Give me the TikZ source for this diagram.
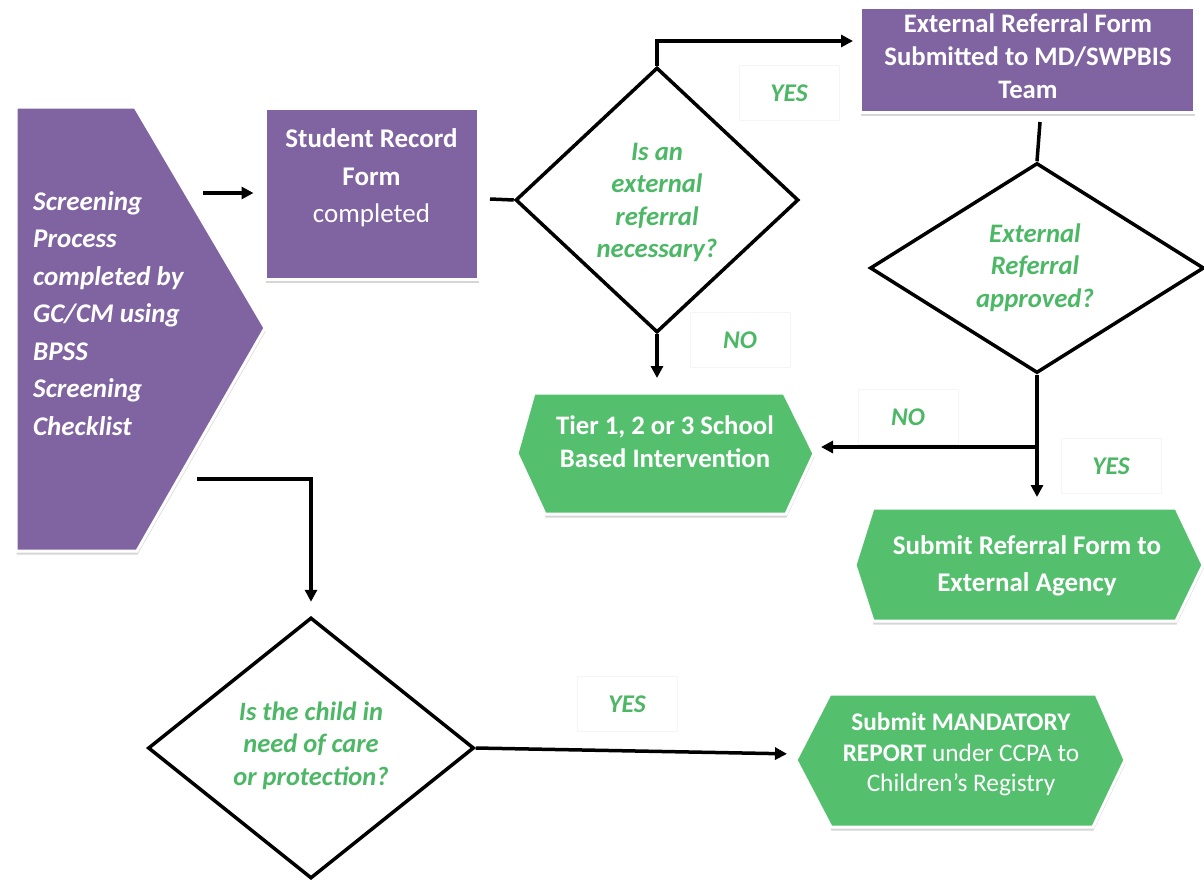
\documentclass[tikz,border=0pt]{standalone}
\usepackage{fontspec}
\setmainfont{Carlito}
\usetikzlibrary{shapes.geometric,arrows.meta,shadows}
\definecolor{purp}{RGB}{128,100,162}
\definecolor{grn}{RGB}{84,192,110}
\definecolor{gtxt}{RGB}{76,184,102}
\begin{document}
\begin{tikzpicture}[x=1pt,y=-1pt,
  shd/.style={drop shadow={shadow xshift=0.5pt,shadow yshift=-3.5pt,fill=black,opacity=0.16}},
  pshape/.style={fill=purp,draw=white,line width=3pt,shd},
  gshape/.style={fill=grn,draw=white,line width=3pt,shd},
  pbox/.style={rectangle,pshape,inner sep=0pt},
  dia/.style={diamond,draw=black,line width=3.5pt,fill=white,inner sep=0pt},
  wtext/.style={text=white,align=center,inner sep=0pt,font=\bfseries\fontsize{26.7}{33}\selectfont},
  qtext/.style={text=gtxt,align=center,inner sep=0pt,font=\bfseries\itshape\fontsize{26.7}{32.5}\selectfont},
  lbl/.style={text=gtxt,font=\bfseries\itshape\fontsize{25.5}{30}\selectfont,draw=black!4,line width=1pt,fill=white,minimum width=100pt,minimum height=55pt},
  conn/.style={line width=3.5pt,line join=miter},
  arr/.style={conn,-{Triangle[length=12pt,width=12pt]}}]
\useasboundingbox (0,0) rectangle (1204,881);

% screening pentagon
\path[pshape] (16,107) -- (135,107) -- (265,328) -- (137,551) -- (16,551) -- cycle;
\node[text=white,align=left,inner sep=0pt,anchor=west,font=\bfseries\itshape\fontsize{27}{37.5}\selectfont] (scr) at (33,313.5)
  {Screening\\Process\\completed by\\GC/CM using\\BPSS\\Screening\\Checklist};
\coordinate (scrA) at (203,193);
\coordinate (scrB) at (197,479);

% student record form
\node[pbox,minimum width=213pt,minimum height=171pt] (srf) at (371.5,193.5) {};
\node[wtext,font=\fontsize{27}{37.5}\selectfont] (srft) at (371.5,178) {\textbf{Student Record}\\\textbf{Form}\\completed};
\coordinate (srfOut) at (490,199);

% diamond 1
\node[dia,minimum width=283pt,minimum height=265pt] (d1) at (657,200) {};
\node[qtext] (d1t) at (657,202.5) {Is an\\external\\referral\\necessary?};

% external referral box
\node[pbox,minimum width=334pt,minimum height=105pt] (ext) at (1027,59.5) {};
\node[wtext] (extt) at (1028,56.5) {External Referral Form\\Submitted to MD/SWPBIS\\Team};
\coordinate (extIn) at (860,41);
\coordinate (extOut) at (1040,122);

% diamond 2
\node[dia,minimum width=334pt,minimum height=210pt] (d2) at (1037,268) {};
\node[qtext] (d2t) at (1035,267.5) {External\\Referral\\approved?};

% tier hexagon
\path[gshape] (517,453.5) -- (534,393) -- (784,393) -- (814,453.5) -- (786,514) -- (545,514) -- cycle;
\node[wtext] (tier) at (665,441.5) {Tier 1, 2 or 3 School\\Based Intervention};
\coordinate (tierN) at (657,393);
\coordinate (tierE) at (814,447);

% submit referral hexagon
\path[gshape] (855,565) -- (873,508) -- (1176,508) -- (1203,565) -- (1176,621) -- (873,621) -- cycle;
\node[wtext,font=\bfseries\fontsize{27}{37}\selectfont] (sub) at (1027,565.5) {Submit Referral Form to\\External Agency};
\coordinate (subN) at (1037,508);

% diamond 3
\node[dia,minimum width=326pt,minimum height=261pt] (d3) at (311,748) {};
\node[qtext,font=\bfseries\itshape\fontsize{26.5}{32.5}\selectfont] (d3t) at (311,745.5) {Is the child in\\need of care\\or protection?};

% mandatory hexagon
\path[gshape] (796,760) -- (830,694) -- (1096,694) -- (1125,760) -- (1093,827) -- (831,827) -- cycle;
\node[wtext,font=\fontsize{25.3}{30.5}\selectfont] (mand) at (961,754.5) {\textbf{Submit MANDATORY}\\\textbf{REPORT} under CCPA to\\Children’s Registry};
\coordinate (mandW) at (796,754);

% labels
\node[lbl] (y1) at (789,93) {YES};
\node[lbl] (n1) at (740,340) {NO};
\node[lbl] (n2) at (908,417) {NO};
\node[lbl] (y2) at (1111,466) {YES};
\node[lbl] (y3) at (627,704) {YES};

% connectors
\draw[arr,shorten >=10pt] (scrA) -- (srf.west |- scrA);
\draw[conn] (srfOut) -- (d1.west);
\draw[arr,shorten >=7pt] (d1.north) |- (extIn);
\draw[arr,shorten >=15pt] (d1.south) -- (tierN);
\draw[conn] (extOut) -- (d2.north);
\draw[arr,shorten >=11pt] (d2.south) -- (subN);
\draw[arr,shorten >=7pt] (d2.south |- tierE) -- (tierE);
\draw[arr,shorten >=14pt] (scrB) -| (d3.north);
\draw[arr,shorten >=9pt] (d3.east) -- (mandW);
\end{tikzpicture}
\end{document}
